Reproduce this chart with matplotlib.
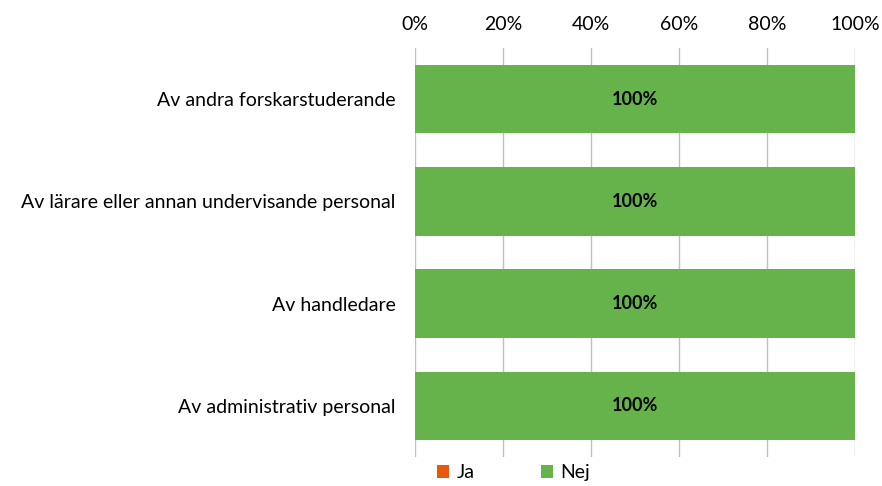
import matplotlib.pyplot as plt
import numpy as np

# Kategorier och värden (procent)
categories = ["Av andra forskarstuderande",
              "Av lärare eller annan undervisande personal",
              "Av handledare",
              "Av administrativ personal"]
ja_values = [0, 0, 0, 0]
nej_values = [100, 100, 100, 100]
tick_values = [0, 20, 40, 60, 80, 100]

plt.rcParams['font.family'] = ['Lato', 'DejaVu Sans']

fig = plt.figure(figsize=(8.82, 4.86), dpi=100)
ax = fig.add_axes([415 / 882, 1 - 457 / 486, 440 / 882, 409 / 486])

y = np.arange(len(categories))
ax.barh(y, ja_values, height=0.67, color="#E8590C", label="Ja", zorder=3)
ax.barh(y, nej_values, left=ja_values, height=0.67, color="#66B34C", label="Nej", zorder=3)

# Etiketter i staplarna
for i, v in enumerate(nej_values):
    ax.text(ja_values[i] + v / 2, i, f"{v}%", ha="center", va="center",
            fontsize=13, fontweight="bold", color="black", zorder=4)

ax.set_xlim(0, 100)
ax.set_ylim(len(categories) - 0.5, -0.5)
ax.set_yticks(y)
ax.set_yticklabels(categories, fontsize=14)
ax.set_xticks(tick_values)
ax.set_xticklabels([f"{t}%" for t in tick_values], fontsize=14)
ax.xaxis.tick_top()
ax.tick_params(axis="both", length=0)
ax.tick_params(axis="y", pad=14)
ax.tick_params(axis="x", pad=11)
ax.grid(axis="x", color="#BFBFBF", linewidth=1, zorder=0)
for s in ax.spines.values():
    s.set_visible(False)

ax.legend(loc="upper left", bbox_to_anchor=(0.02, 0.015), ncol=2, frameon=False,
          fontsize=14, handlelength=0.6, handleheight=0.6, columnspacing=3.4,
          handletextpad=0.4, borderpad=0.2)

fig.savefig("out.png", dpi=100)
